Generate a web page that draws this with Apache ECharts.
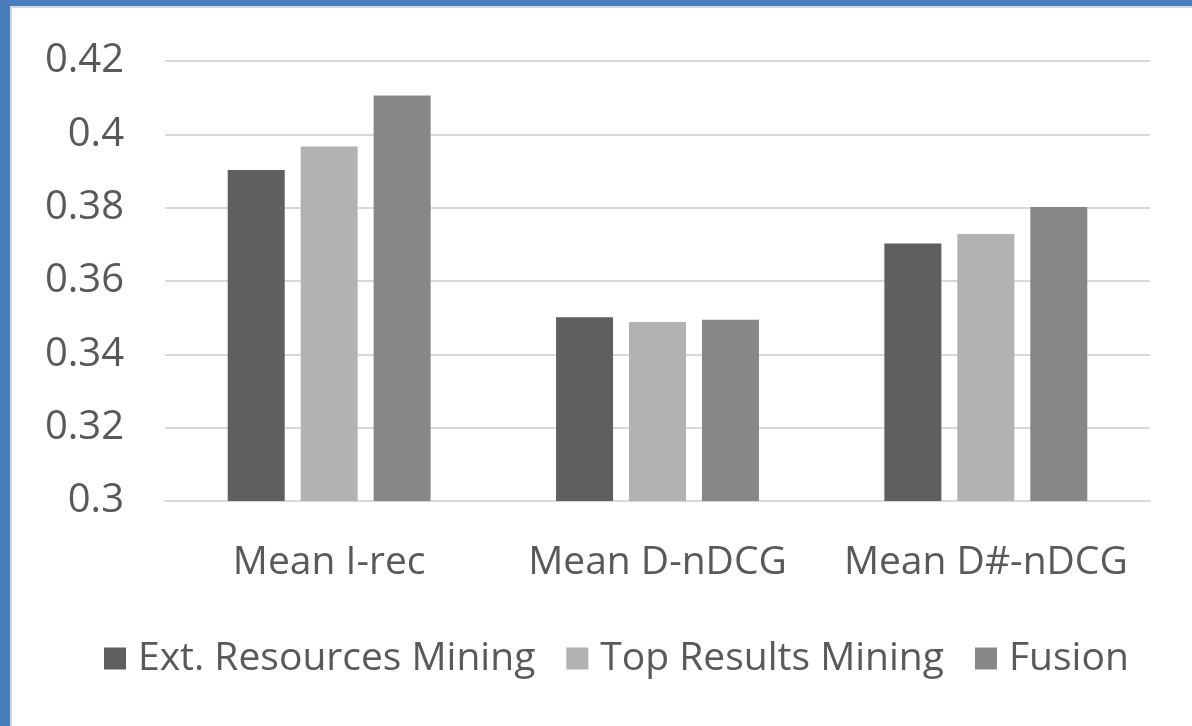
<!DOCTYPE html>
<html>
<head>
<meta charset="utf-8">
<script src="https://cdn.jsdelivr.net/npm/echarts@6/dist/echarts.min.js"></script>
<style>
  html, body { margin: 0; padding: 0; background: #4a7ebb; overflow: hidden; }
  #frame {
    position: absolute; left: 10px; top: 6px; width: 1180px; height: 718px;
    background: #fff; border-left: 2px solid #d6d6d6; border-top: 2px solid #d6d6d6;
  }
  #chart { width: 1180px; height: 718px; }
</style>
</head>
<body>
<div id="frame"><div id="chart"></div></div>
<script>
// categories and values
var categories = ['Mean I-rec', 'Mean D-nDCG', 'Mean D#-nDCG'];
var extResources = [0.3903, 0.3501, 0.3702];
var topResults = [0.3967, 0.3488, 0.3728];
var fusion = [0.4106, 0.3494, 0.3802];
var seriesNames = ['Ext. Resources Mining', 'Top Results Mining', 'Fusion'];
var colors = ['#5f5f5f', '#b2b2b2', '#878787'];

var font = 'Open Sans';
var textColor = '#595959';

var chart = echarts.init(document.getElementById('chart'));

var makeSeries = function (name, data, color) {
    return {
        name: name,
        type: 'bar',
        data: data,
        barWidth: 57,
        barGap: '28%',
        itemStyle: { color: color },
        emphasis: { disabled: true }
    };
};

var option = {
    animation: false,
    color: colors,
    grid: { left: 153, right: 42, top: 53, bottom: 225 },
    legend: {
        data: seriesNames,
        left: 87,
        top: 626,
        icon: 'rect',
        itemWidth: 22,
        itemHeight: 22,
        itemGap: 31,
        textStyle: { color: textColor, fontSize: 39, fontFamily: font, padding: [0, 0, 0, 7] }
    },
    xAxis: {
        type: 'category',
        data: categories,
        axisLine: { lineStyle: { color: '#d9d9d9', width: 2 } },
        axisTick: { show: false },
        axisLabel: { color: textColor, fontSize: 39, fontFamily: font, margin: 42, interval: 0 }
    },
    yAxis: {
        type: 'value',
        min: 0.3,
        max: 0.42,
        interval: 0.02,
        axisLine: { show: false },
        axisTick: { show: false },
        splitLine: { lineStyle: { color: '#d9d9d9', width: 2 } },
        axisLabel: { color: textColor, fontSize: 40, fontFamily: font, margin: 41 }
    },
    series: [
        makeSeries(seriesNames[0], extResources, colors[0]),
        makeSeries(seriesNames[1], topResults, colors[1]),
        makeSeries(seriesNames[2], fusion, colors[2])
    ]
};

chart.setOption(option);
</script>
</body>
</html>
